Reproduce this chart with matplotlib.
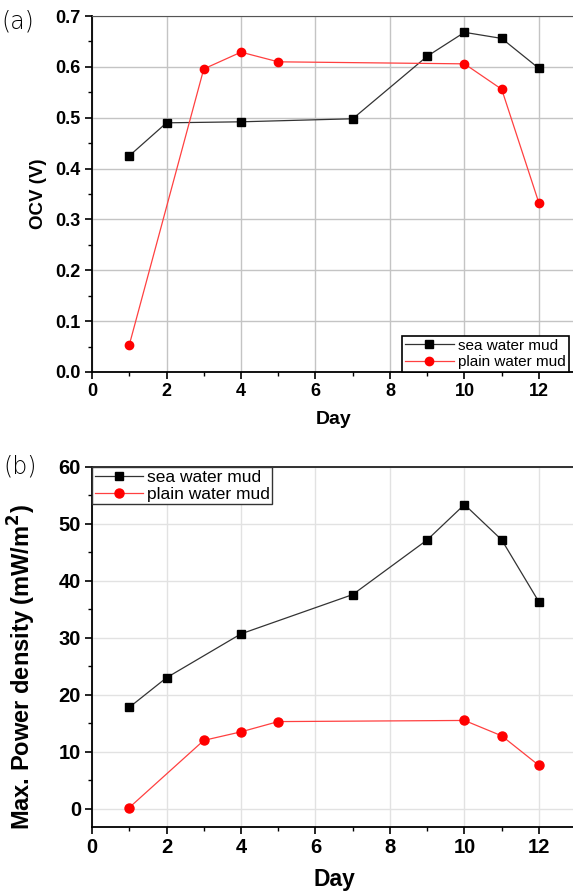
import matplotlib
matplotlib.use('Agg')
import matplotlib.pyplot as plt
from matplotlib.ticker import MultipleLocator

# =============================================================================
# Data
# =============================================================================

sea_days = [1, 2, 4, 7, 9, 10, 11, 12]
plain_days = [1, 3, 4, 5, 10, 11, 12]

sea_ocv = [0.425, 0.490, 0.492, 0.498, 0.621, 0.668, 0.656, 0.597]
plain_ocv = [0.053, 0.596, 0.629, 0.610, 0.606, 0.556, 0.332]

sea_power = [17.8, 23.0, 30.7, 37.6, 47.2, 53.4, 47.2, 36.3]
plain_power = [0.2, 12.0, 13.5, 15.3, 15.5, 12.8, 7.6]

x_ticks = [0, 2, 4, 6, 8, 10, 12]

plt.rcParams['font.family'] = ['Liberation Sans', 'DejaVu Sans']

fig = plt.figure(figsize=(5.73, 8.92), dpi=100)

# =============================================================================
# (a) OCV
# =============================================================================

ax1 = fig.add_axes([0.1606, 0.583, 0.845, 0.399])
ax1.plot(sea_days, sea_ocv, color='#333333', lw=0.9, marker='s', ms=5.5,
         mfc='black', mec='black', label='sea water mud', zorder=3)
ax1.plot(plain_days, plain_ocv, color='#ff4040', lw=0.9, marker='o', ms=6,
         mfc='red', mec='red', label='plain water mud', zorder=3)
ax1.set_xlim(0, 13)
ax1.set_ylim(0, 0.7)
ax1.set_xticks(x_ticks)
ax1.xaxis.set_minor_locator(MultipleLocator(1))
ax1.yaxis.set_major_locator(MultipleLocator(0.1))
ax1.yaxis.set_minor_locator(MultipleLocator(0.05))
ax1.grid(True, which='major', color='#c4c4c4', lw=1.0)
ax1.tick_params(which='major', direction='out', length=5, width=1.2,
                labelsize=13, pad=3)
ax1.tick_params(which='minor', direction='out', length=3, width=1.0)
for lab in ax1.get_xticklabels() + ax1.get_yticklabels():
    lab.set_fontweight('bold')
ax1.set_yticklabels(['%.1f' % v for v in ax1.get_yticks()], fontweight='bold')
ax1.set_xlabel('Day', fontsize=14, fontweight='bold', labelpad=8)
ax1.set_ylabel('OCV (V)', fontsize=13.5, fontweight='bold', labelpad=6)
ax1.spines['right'].set_visible(False)
ax1.spines['top'].set_color('#555555')
ax1.spines['left'].set_linewidth(1.3)
ax1.spines['bottom'].set_linewidth(1.3)
leg1 = ax1.legend(loc='lower right', bbox_to_anchor=(0.985, 0.0), fontsize=11,
                  fancybox=False, edgecolor='black', framealpha=1,
                  borderpad=0.2, handlelength=3.2, handletextpad=0.3,
                  labelspacing=0.15, borderaxespad=0.0)
leg1.get_frame().set_linewidth(1.2)
fig.text(0.003, 0.976, '(a)', fontsize=17, family='DejaVu Sans',
         fontweight='light', va='center', ha='left')

# =============================================================================
# (b) Max. power density
# =============================================================================

ax2 = fig.add_axes([0.1606, 0.0729, 0.845, 0.4036])
ax2.plot(sea_days, sea_power, color='#333333', lw=0.9, marker='s', ms=6,
         mfc='black', mec='black', label='sea water mud', zorder=3)
ax2.plot(plain_days, plain_power, color='#ff4040', lw=0.9, marker='o', ms=6.5,
         mfc='red', mec='red', label='plain water mud', zorder=3)
ax2.set_xlim(0, 13)
ax2.set_ylim(-3.2, 60)
ax2.set_xticks(x_ticks)
ax2.xaxis.set_minor_locator(MultipleLocator(1))
ax2.yaxis.set_major_locator(MultipleLocator(10))
ax2.yaxis.set_minor_locator(MultipleLocator(5))
ax2.grid(True, which='major', color='#e2e2e2', lw=1.0)
ax2.tick_params(which='major', direction='out', length=5, width=1.2,
                labelsize=14.5, pad=3)
ax2.tick_params(which='minor', direction='out', length=3, width=1.0)
for lab in ax2.get_xticklabels() + ax2.get_yticklabels():
    lab.set_fontweight('bold')
ax2.set_xlabel('Day', fontsize=16.5, fontweight='bold', labelpad=8)
ax2.set_ylabel('Max. Power density (mW/m$^\\mathbf{2}$)', fontsize=17,
               fontweight='bold')
ax2.yaxis.set_label_coords(-0.112, 0.444)
ax2.spines['right'].set_visible(False)
ax2.spines['top'].set_color('#222222')
ax2.spines['top'].set_linewidth(1.3)
ax2.spines['left'].set_linewidth(1.3)
ax2.spines['bottom'].set_linewidth(1.3)
leg2 = ax2.legend(loc='upper left', bbox_to_anchor=(0.0, 1.0), fontsize=12.5,
                  fancybox=False, edgecolor='#333333', framealpha=1,
                  borderpad=0.15, handlelength=2.8, handletextpad=0.2,
                  labelspacing=0.1, borderaxespad=0.0)
leg2.get_frame().set_linewidth(1.0)
fig.text(0.006, 0.477, '(b)', fontsize=17, family='DejaVu Sans',
         fontweight='light', va='center', ha='left')

fig.savefig('out.png', dpi=100)
